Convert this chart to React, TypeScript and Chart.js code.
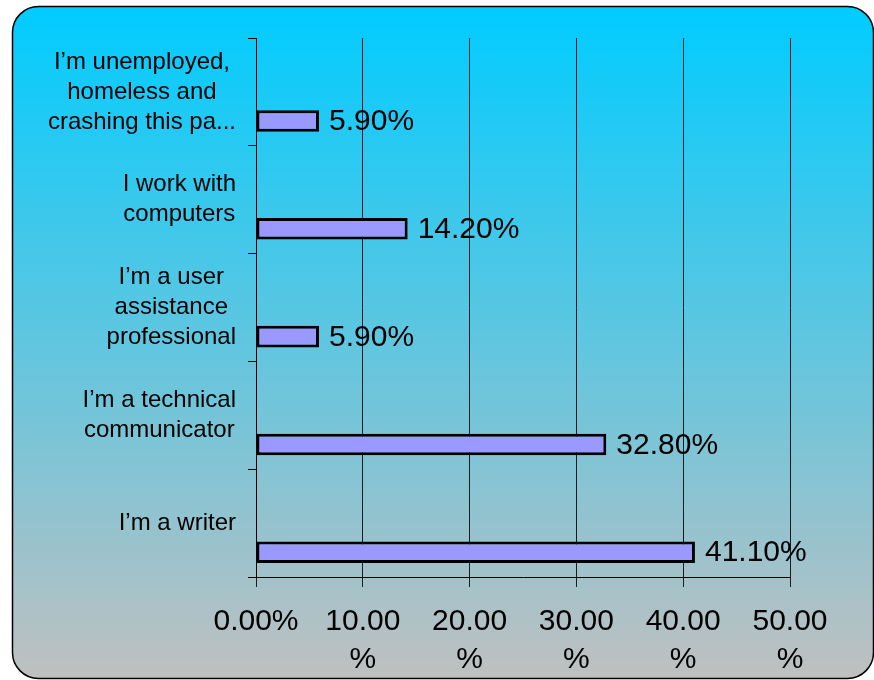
import React, { useEffect, useRef } from "react";
import { Chart, registerables } from "chart.js";

Chart.register(...registerables);

const categories: string[][] = [
  ["I’m unemployed,", "homeless and", "crashing this pa..."],
  ["I work with", "computers"],
  ["I’m a user", "assistance", "professional"],
  ["I’m a technical", "communicator"],
  ["I’m a writer"],
];
const values: number[] = [5.9, 14.2, 5.9, 32.8, 41.1];
const valueLabels: string[] = ["5.90%", "14.20%", "5.90%", "32.80%", "41.10%"];
const xTicks: number[] = [0, 10, 20, 30, 40, 50];

const FONT = '"Liberation Sans", Arial, sans-serif';

const panelPlugin = {
  id: "panel",
  beforeDraw(chart: any) {
    const ctx = chart.ctx as CanvasRenderingContext2D;
    const x0 = 12.5, y0 = 6.5, x1 = 873.5, y1 = 678.5, r = 26;
    ctx.save();
    const g = ctx.createLinearGradient(0, y0, 0, y1);
    g.addColorStop(0, "#00CCFF");
    g.addColorStop(1, "#C0C0C0");
    ctx.beginPath();
    ctx.moveTo(x0 + r, y0);
    ctx.lineTo(x1 - r, y0);
    ctx.arcTo(x1, y0, x1, y0 + r, r);
    ctx.lineTo(x1, y1 - r);
    ctx.arcTo(x1, y1, x1 - r, y1, r);
    ctx.lineTo(x0 + r, y1);
    ctx.arcTo(x0, y1, x0, y1 - r, r);
    ctx.lineTo(x0, y0 + r);
    ctx.arcTo(x0, y0, x0 + r, y0, r);
    ctx.closePath();
    ctx.fillStyle = g;
    ctx.fill();
    ctx.lineWidth = 1.5;
    ctx.strokeStyle = "#000";
    ctx.stroke();
    ctx.restore();
  },
};

const labelsPlugin = {
  id: "labelsPlugin",
  afterDatasetsDraw(chart: any) {
    const ctx = chart.ctx as CanvasRenderingContext2D;
    ctx.save();
    // value labels
    const meta = chart.getDatasetMeta(2);
    ctx.font = `30px ${FONT}`;
    ctx.fillStyle = "#000";
    ctx.textAlign = "left";
    ctx.textBaseline = "middle";
    meta.data.forEach((el: any, i: number) => {
      ctx.fillText(valueLabels[i], el.x + 10, el.y + 1);
    });
    // category labels: lines centred with each other, block right-aligned
    const yScale = chart.scales.y;
    const rightEdge = yScale.right - 8 - 12;
    const lh = 30;
    ctx.font = `24px ${FONT}`;
    ctx.textAlign = "center";
    categories.forEach((lines, i) => {
      const cy = yScale.getPixelForValue(i);
      const w = Math.max(...lines.map((l) => ctx.measureText(l).width));
      const cx = rightEdge - w / 2;
      const startY = cy - ((lines.length - 1) * lh) / 2;
      lines.forEach((l, j) => ctx.fillText(l, cx, startY + j * lh));
    });
    ctx.restore();
  },
};

export default function App() {
  const ref = useRef<HTMLCanvasElement | null>(null);
  useEffect(() => {
    if (!ref.current) return;
    const chart = new Chart(ref.current, {
      type: "bar",
      data: {
        labels: categories.map((c) => c.join(" ")),
        datasets: [
          { label: "", data: values.map(() => null) as any },
          { label: "", data: values.map(() => null) as any },
          {
            label: "Share",
            data: values,
            backgroundColor: "#9999FF",
            borderColor: "#000",
            borderWidth: 3,
            borderSkipped: false,
            categoryPercentage: 0.81,
            barPercentage: 0.74,
          } as any,
        ],
      },
      options: {
        indexAxis: "y",
        animation: false,
        responsive: false,
        events: [],
        layout: { padding: { top: 38, right: 84, left: 0, bottom: 0 } },
        datasets: { bar: { categoryPercentage: 0.81, barPercentage: 0.74 } } as any,
        plugins: { legend: { display: false }, tooltip: { enabled: false } },
        scales: {
          x: {
            type: "linear",
            min: 0,
            max: 50,
            afterBuildTicks: (s: any) => {
              s.ticks = xTicks.map((v) => ({ value: v }));
            },
            afterFit: (s: any) => {
              s.height = 103;
            },
            ticks: {
              autoSkip: false,
              maxRotation: 0,
              minRotation: 0,
              padding: 16,
              color: "#000",
              font: { family: FONT, size: 30, lineHeight: 1.27 },
              callback: (v: any) => (Number(v) === 0 ? "0.00%" : [Number(v).toFixed(2), "%"]),
            },
            grid: { color: "rgba(0,0,0,0.85)", lineWidth: 1, tickLength: 10 },
            border: { color: "#000", width: 1 },
          },
          y: {
            type: "category",
            afterFit: (s: any) => {
              s.width = 256;
            },
            ticks: { display: false },
            grid: { drawOnChartArea: false, color: "#000", tickLength: 8 },
            border: { color: "#000", width: 1 },
          },
        },
      },
      plugins: [panelPlugin, labelsPlugin],
    });
    return () => chart.destroy();
  }, []);
  return (
    <div style={{ position: "fixed", left: 0, top: 0, width: 874, height: 680 }}>
      <canvas ref={ref} width={874} height={680} style={{ display: "block" }} />
    </div>
  );
}
